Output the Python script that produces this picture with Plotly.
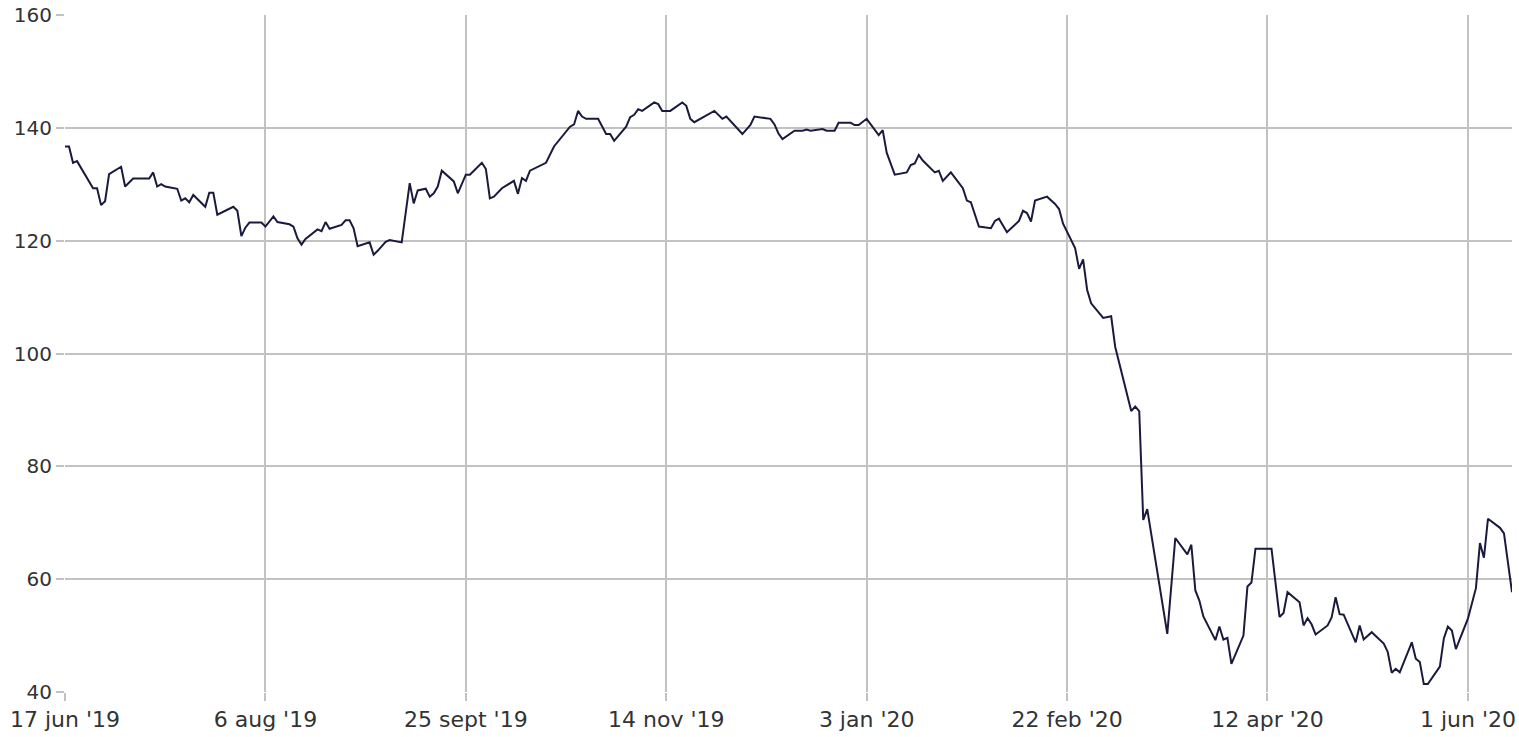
import plotly.graph_objects as go

dates = [
    "2019-06-17", "2019-06-18", "2019-06-19", "2019-06-20", "2019-06-24", "2019-06-25",
    "2019-06-26", "2019-06-27", "2019-06-28", "2019-07-01", "2019-07-02", "2019-07-04",
    "2019-07-08", "2019-07-09", "2019-07-10", "2019-07-11", "2019-07-12", "2019-07-15",
    "2019-07-16", "2019-07-17", "2019-07-18", "2019-07-19", "2019-07-22", "2019-07-23",
    "2019-07-24", "2019-07-25", "2019-07-29", "2019-07-30", "2019-07-31", "2019-08-01",
    "2019-08-02", "2019-08-05", "2019-08-06", "2019-08-08", "2019-08-09", "2019-08-12",
    "2019-08-13", "2019-08-14", "2019-08-15", "2019-08-16", "2019-08-19", "2019-08-20",
    "2019-08-21", "2019-08-22", "2019-08-25", "2019-08-26", "2019-08-27", "2019-08-28",
    "2019-08-29", "2019-09-01", "2019-09-02", "2019-09-03", "2019-09-05", "2019-09-06",
    "2019-09-09", "2019-09-10", "2019-09-11", "2019-09-12", "2019-09-13", "2019-09-15",
    "2019-09-16", "2019-09-17", "2019-09-18", "2019-09-19", "2019-09-22", "2019-09-23",
    "2019-09-25", "2019-09-26", "2019-09-29", "2019-09-30", "2019-10-01", "2019-10-02",
    "2019-10-04", "2019-10-07", "2019-10-08", "2019-10-09", "2019-10-10", "2019-10-11",
    "2019-10-14", "2019-10-15", "2019-10-17", "2019-10-20", "2019-10-21", "2019-10-22",
    "2019-10-23", "2019-10-24", "2019-10-25", "2019-10-28", "2019-10-30", "2019-10-31",
    "2019-11-01", "2019-11-04", "2019-11-05", "2019-11-06", "2019-11-07", "2019-11-08",
    "2019-11-11", "2019-11-12", "2019-11-13", "2019-11-15", "2019-11-18", "2019-11-19",
    "2019-11-20", "2019-11-21", "2019-11-26", "2019-11-28", "2019-11-29", "2019-12-03",
    "2019-12-05", "2019-12-06", "2019-12-10", "2019-12-11", "2019-12-12", "2019-12-13",
    "2019-12-16", "2019-12-18", "2019-12-19", "2019-12-20", "2019-12-23", "2019-12-24",
    "2019-12-26", "2019-12-27", "2019-12-30", "2019-12-31", "2020-01-01", "2020-01-03",
    "2020-01-06", "2020-01-07", "2020-01-08", "2020-01-10", "2020-01-13", "2020-01-14",
    "2020-01-15", "2020-01-16", "2020-01-17", "2020-01-20", "2020-01-21", "2020-01-22",
    "2020-01-24", "2020-01-27", "2020-01-28", "2020-01-29", "2020-01-31", "2020-02-03",
    "2020-02-04", "2020-02-05", "2020-02-07", "2020-02-10", "2020-02-11", "2020-02-12",
    "2020-02-13", "2020-02-14", "2020-02-17", "2020-02-19", "2020-02-20", "2020-02-21",
    "2020-02-24", "2020-02-25", "2020-02-26", "2020-02-27", "2020-02-28", "2020-03-02",
    "2020-03-04", "2020-03-05", "2020-03-09", "2020-03-10", "2020-03-11", "2020-03-12",
    "2020-03-13", "2020-03-18", "2020-03-20", "2020-03-23", "2020-03-24", "2020-03-25",
    "2020-03-26", "2020-03-27", "2020-03-30", "2020-03-31", "2020-04-01", "2020-04-02",
    "2020-04-03", "2020-04-06", "2020-04-07", "2020-04-08", "2020-04-09", "2020-04-13",
    "2020-04-15", "2020-04-16", "2020-04-17", "2020-04-20", "2020-04-21", "2020-04-22",
    "2020-04-23", "2020-04-24", "2020-04-27", "2020-04-28", "2020-04-29", "2020-04-30",
    "2020-05-01", "2020-05-04", "2020-05-05", "2020-05-06", "2020-05-08", "2020-05-11",
    "2020-05-12", "2020-05-13", "2020-05-14", "2020-05-15", "2020-05-18", "2020-05-19",
    "2020-05-20", "2020-05-21", "2020-05-22", "2020-05-25", "2020-05-26", "2020-05-27",
    "2020-05-28", "2020-05-29", "2020-06-01", "2020-06-03", "2020-06-04", "2020-06-05",
    "2020-06-06", "2020-06-09", "2020-06-10", "2020-06-11", "2020-06-12",
]

values = [
    136.7, 136.7, 133.8, 134.1, 129.3, 129.3,
    126.3, 127.0, 131.8, 133.1, 129.6, 131.0,
    131.0, 132.1, 129.6, 130.0, 129.6, 129.2,
    127.1, 127.5, 126.8, 128.1, 126.0, 128.5,
    128.5, 124.6, 126.0, 125.3, 120.8, 122.3,
    123.2, 123.2, 122.5, 124.3, 123.3, 122.9,
    122.5, 120.4, 119.3, 120.3, 122.0, 121.7,
    123.3, 122.1, 122.8, 123.6, 123.6, 122.2,
    119.0, 119.7, 117.5, 118.2, 119.8, 120.1,
    119.7, 125.5, 130.2, 126.6, 128.9, 129.2,
    127.8, 128.4, 129.6, 132.4, 130.5, 128.4,
    131.7, 131.7, 133.8, 132.7, 127.5, 127.8,
    129.3, 130.6, 128.3, 131.1, 130.6, 132.4,
    133.4, 133.8, 136.7, 139.3, 140.2, 140.6,
    143.0, 142.0, 141.6, 141.6, 138.9, 138.9,
    137.7, 140.2, 141.9, 142.3, 143.3, 143.0,
    144.5, 144.2, 143.0, 143.0, 144.5, 143.9,
    141.6, 141.0, 143.0, 141.6, 142.0, 138.9,
    140.5, 142.0, 141.6, 140.6, 139.0, 138.0,
    139.5, 139.5, 139.7, 139.5, 139.8, 139.5,
    139.5, 140.9, 140.9, 140.5, 140.5, 141.6,
    138.7, 139.6, 135.6, 131.7, 132.1, 133.4,
    133.7, 135.2, 134.2, 132.1, 132.4, 130.6,
    132.1, 129.3, 127.1, 126.8, 122.5, 122.2,
    123.5, 123.9, 121.5, 123.5, 125.3, 124.9,
    123.4, 127.1, 127.8, 126.5, 125.6, 123.0,
    118.7, 115.0, 116.7, 111.3, 108.9, 106.3,
    106.6, 101.2, 89.8, 90.6, 89.8, 70.5,
    72.4, 50.3, 67.3, 64.4, 66.1, 58.0,
    56.2, 53.4, 49.2, 51.6, 49.3, 49.6,
    45.0, 50.0, 58.7, 59.4, 65.4, 65.4,
    53.3, 54.0, 57.7, 55.9, 51.8, 53.1,
    52.0, 50.2, 51.8, 53.2, 56.8, 53.8,
    53.7, 48.8, 51.8, 49.3, 50.6, 48.6,
    47.1, 43.4, 44.1, 43.5, 48.8, 45.9,
    45.3, 41.4, 41.4, 44.5, 49.5, 51.6,
    50.9, 47.6, 53.0, 58.4, 66.4, 63.8,
    70.7, 69.1, 68.1, 62.9, 57.7,
]

tick_dates = ["2019-06-17", "2019-08-06", "2019-09-25", "2019-11-14",
              "2020-01-03", "2020-02-22", "2020-04-12", "2020-06-01"]
tick_labels = ["17 jun '19", "6 aug '19", "25 sept '19", "14 nov '19",
               "3 jan '20", "22 feb '20", "12 apr '20", "1 jun '20"]
y_ticks = [40, 60, 80, 100, 120, 140, 160]

grid = "#c2c2c2"
family = "DejaVu Sans, Verdana, sans-serif"
xfont = dict(family=family, size=22, color="#333333")
yfont = dict(family=family, size=20, color="#333333")

fig = go.Figure(go.Scatter(
    x=dates, y=values, mode="lines",
    line=dict(color="#1a1a3e", width=2),
    hoverinfo="x+y",
))

fig.update_layout(
    width=1519, height=737,
    margin=dict(l=65, r=7, t=15, b=45),
    plot_bgcolor="white", paper_bgcolor="white",
    showlegend=False,
    font=yfont,
    xaxis=dict(
        range=[dates[0], dates[-1]],
        tickvals=tick_dates, ticktext=tick_labels,
        showgrid=True, gridcolor=grid, gridwidth=2,
        ticks="outside", ticklen=8, tickcolor=grid, tickwidth=2,
        showline=False, zeroline=False,
        tickfont=xfont, automargin=False,
    ),
    yaxis=dict(
        range=[40, 160],
        tickvals=y_ticks,
        showgrid=True, gridcolor=grid, gridwidth=2,
        ticks="outside", ticklen=8, tickcolor=grid, tickwidth=2,
        showline=False, zeroline=False,
        tickfont=yfont, automargin=False,
    ),
)

fig.write_html(
    "out.html",
    config={"displayModeBar": False},
    post_script="document.body.style.margin='0';document.body.style.overflow='hidden';",
)
